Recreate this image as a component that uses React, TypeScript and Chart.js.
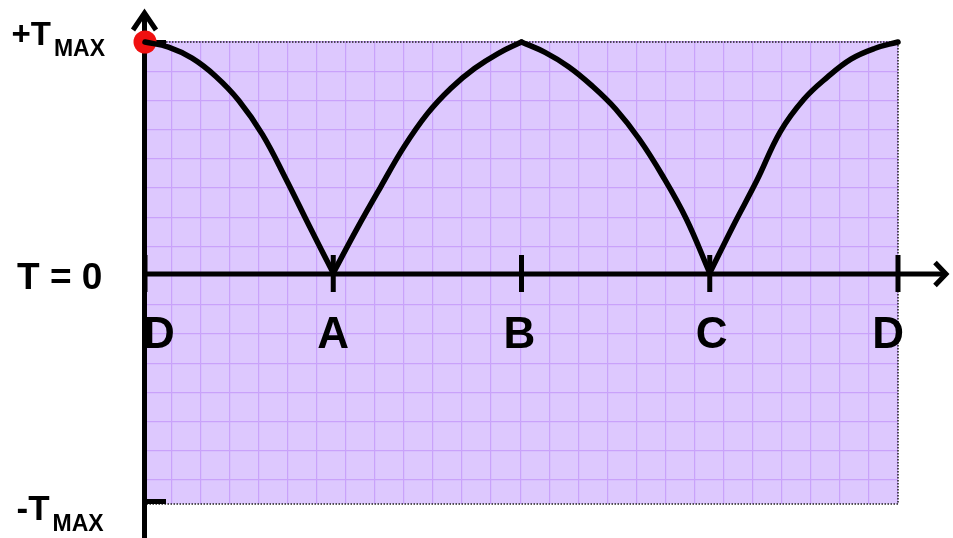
import { useEffect, useRef } from "react";
import { Chart, registerables } from "chart.js";

Chart.register(...registerables);

// ---- data ----
const curveX = [
  0, 0.125, 0.25, 0.375, 0.5, 0.625, 0.75, 0.875,
  1, 1.125, 1.25, 1.375, 1.5, 1.625, 1.75, 1.875,
  2, 2.125, 2.25, 2.375, 2.5, 2.625, 2.75, 2.875,
  3, 3.125, 3.25, 3.375, 3.5, 3.625, 3.75, 3.875, 4,
];
const curveY = [
  1.0, 0.978, 0.93, 0.852, 0.745, 0.598, 0.405, 0.2,
  0, 0.19, 0.37, 0.545, 0.69, 0.8, 0.885, 0.95,
  1.0, 0.955, 0.893, 0.81, 0.71, 0.58, 0.42, 0.235,
  0, 0.205, 0.4, 0.612, 0.752, 0.848, 0.926, 0.972, 1.0,
];
// indices where the curve changes direction (D, A, B, C, D)
const segmentBreaks = [0, 8, 16, 24, 32];

const dotX = [0];
const dotY = [1];

const xTickValues = [0, 1, 2, 3, 4];
const xTickLabels = ["D", "A", "B", "C", "D"];

const yTickValues = [1, -1];
const yTickMain = ["+T", "-T"];
const yTickSub = ["MAX", "MAX"];
const zeroLabel = "T = 0";

const X_MIN = 0;
const X_MAX = 4;
const Y_MIN = -1;
const Y_MAX = 1;
const GRID_STEP_X = 0.1544;
const GRID_STEP_Y = 0.1264;

// ---- styles ----
const FILL = "#DDC8FE";
const GRID = "#C9A2FA";
const FONT = '"Liberation Sans", Arial, sans-serif';

const decor = {
  id: "decor",
  beforeDraw(chart: any) {
    const { ctx, chartArea: a } = chart;
    ctx.save();
    ctx.fillStyle = FILL;
    ctx.fillRect(a.left, a.top, a.right - a.left, a.bottom - a.top);
    ctx.restore();
  },
  beforeDatasetsDraw(chart: any) {
    const { ctx, chartArea: a, scales } = chart;
    const xs = scales.x;
    const ys = scales.y;
    ctx.save();
    // dotted frame
    ctx.strokeStyle = "#222";
    ctx.lineWidth = 1.5;
    ctx.setLineDash([1.5, 1.5]);
    ctx.strokeRect(a.left, a.top, a.right - a.left, a.bottom - a.top);
    ctx.setLineDash([]);

    const y0 = ys.getPixelForValue(0) + 1;
    const ax = a.left - 0.5;
    ctx.strokeStyle = "#000";
    ctx.lineWidth = 5;
    ctx.lineCap = "butt";
    ctx.lineJoin = "miter";

    // y axis + arrow
    ctx.beginPath();
    ctx.moveTo(ax, chart.height);
    ctx.lineTo(ax, 14);
    ctx.stroke();
    ctx.beginPath();
    ctx.moveTo(ax - 11.5, 30);
    ctx.lineTo(ax, 13);
    ctx.lineTo(ax + 11.5, 30);
    ctx.stroke();

    // x axis + arrow
    ctx.beginPath();
    ctx.moveTo(ax, y0);
    ctx.lineTo(chart.width - 8, y0);
    ctx.stroke();
    ctx.beginPath();
    ctx.moveTo(chart.width - 18, y0 - 11.5);
    ctx.lineTo(chart.width - 7, y0);
    ctx.lineTo(chart.width - 18, y0 + 11.5);
    ctx.stroke();

    // x ticks
    xTickValues.forEach((v) => {
      const px = xs.getPixelForValue(v);
      ctx.beginPath();
      ctx.moveTo(px, y0 - 19);
      ctx.lineTo(px, y0 + 18);
      ctx.stroke();
    });

    // y ticks
    yTickValues.forEach((v) => {
      const py = ys.getPixelForValue(v) + (v > 0 ? 0.5 : -2.5);
      ctx.beginPath();
      ctx.moveTo(ax - 2.5, py);
      ctx.lineTo(a.left + 21, py);
      ctx.stroke();
    });

    // x labels
    ctx.fillStyle = "#000";
    ctx.textBaseline = "alphabetic";
    ctx.font = `bold 44px ${FONT}`;
    xTickLabels.forEach((lab, i) => {
      const px = xs.getPixelForValue(xTickValues[i]);
      if (i === 0) {
        ctx.textAlign = "left";
        ctx.fillText(lab, px - 2, y0 + 74);
      } else if (i === xTickLabels.length - 1) {
        ctx.textAlign = "right";
        ctx.fillText(lab, px + 6, y0 + 74);
      } else {
        ctx.textAlign = "center";
        ctx.fillText(lab, px - (i === 2 ? 2 : i === 3 ? -2 : 0), y0 + 74);
      }
    });

    // y labels
    ctx.textAlign = "left";
    yTickValues.forEach((v, i) => {
      const py = ys.getPixelForValue(v);
      const size = v > 0 ? 33 : 35;
      const x0 = v > 0 ? 11.5 : 16.5;
      const base = v > 0 ? py + 3 : py + 16;
      ctx.font = `bold ${size}px ${FONT}`;
      ctx.fillText(yTickMain[i], x0, base);
      const w = ctx.measureText(yTickMain[i]).width;
      ctx.font = `bold 23px ${FONT}`;
      ctx.fillText(yTickSub[i], x0 + w + 3, base + 11);
    });
    ctx.font = `bold 37px ${FONT}`;
    ctx.fillText(zeroLabel, 17, y0 + 15);

    ctx.restore();
  },
};

export default function App() {
  const ref = useRef<HTMLCanvasElement | null>(null);

  useEffect(() => {
    document.body.style.margin = "0";
    if (!ref.current) return;

    const segments = [];
    for (let s = 0; s < segmentBreaks.length - 1; s++) {
      const pts = [];
      for (let i = segmentBreaks[s]; i <= segmentBreaks[s + 1]; i++) {
        pts.push({ x: curveX[i], y: curveY[i] });
      }
      segments.push({
        data: pts,
        borderColor: "#000",
        borderWidth: 5.5,
        pointRadius: 0,
        fill: false,
        tension: 0.4,
        borderCapStyle: "round" as const,
        borderJoinStyle: "round" as const,
        clip: false as const,
        order: 0,
      });
    }

    const chart = new Chart(ref.current, {
      type: "line",
      data: {
        datasets: [
          ...segments,
          {
            data: dotX.map((x, i) => ({ x, y: dotY[i] })),
            showLine: false,
            pointRadius: 11.5,
            pointBackgroundColor: "#F01010",
            pointBorderWidth: 0,
            borderWidth: 0,
            clip: false as const,
            order: 1,
          },
        ] as any,
      },
      options: {
        animation: false,
        responsive: false,
        devicePixelRatio: 1,
        events: [],
        layout: { padding: { left: 145, right: 55, top: 42, bottom: 34 } },
        plugins: { legend: { display: false }, tooltip: { enabled: false } },
        scales: {
          x: {
            type: "linear",
            min: X_MIN,
            max: X_MAX,
            ticks: { display: false },
            border: { display: false },
            grid: { color: GRID, lineWidth: 1.2, drawTicks: false },
            afterBuildTicks: (s: any) => {
              const t = [];
              for (let v = X_MAX; v > X_MIN + 1e-6; v -= GRID_STEP_X) t.push({ value: v });
              s.ticks = t.reverse();
            },
          },
          y: {
            type: "linear",
            min: Y_MIN,
            max: Y_MAX,
            ticks: { display: false },
            border: { display: false },
            grid: { color: GRID, lineWidth: 1.2, drawTicks: false },
            afterBuildTicks: (s: any) => {
              const t = [];
              for (let v = Y_MAX; v > Y_MIN + 1e-6; v -= GRID_STEP_Y) t.push({ value: v });
              s.ticks = t.reverse();
            },
          },
        },
      },
      plugins: [decor],
    });

    return () => chart.destroy();
  }, []);

  return (
    <div style={{ width: 953, height: 538 }}>
      <canvas ref={ref} width={953} height={538} style={{ display: "block" }} />
    </div>
  );
}
